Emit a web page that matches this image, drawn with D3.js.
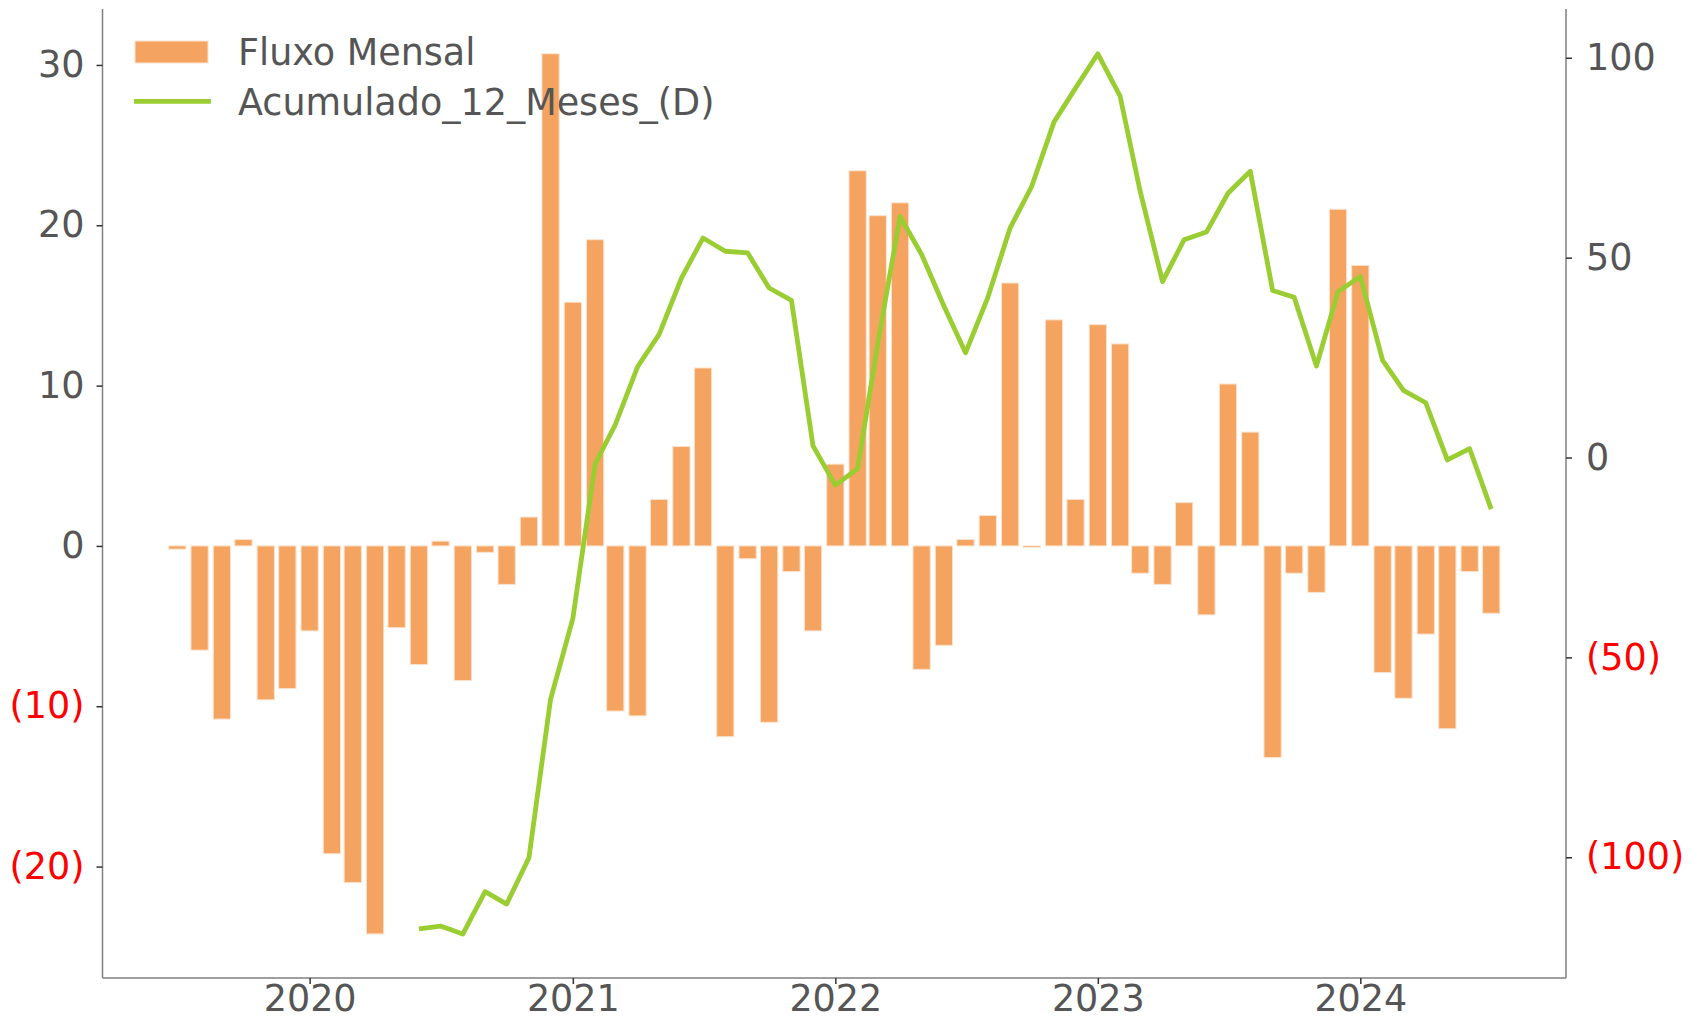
<!DOCTYPE html>
<html>
<head>
<meta charset="utf-8">
<script src="https://cdn.jsdelivr.net/npm/d3@7"></script>
<style>
  body { margin: 0; background: #fff; }
  .tick-text { font-family: "DejaVu Sans", sans-serif; font-size: 36.5px; }
</style>
</head>
<body>
<div id="chart"></div>
<script>
// months of the monthly flow (first day of each month)
var months = [
    "2019-07", "2019-08", "2019-09", "2019-10", "2019-11", "2019-12",
    "2020-01", "2020-02", "2020-03", "2020-04", "2020-05", "2020-06",
    "2020-07", "2020-08", "2020-09", "2020-10", "2020-11", "2020-12",
    "2021-01", "2021-02", "2021-03", "2021-04", "2021-05", "2021-06",
    "2021-07", "2021-08", "2021-09", "2021-10", "2021-11", "2021-12",
    "2022-01", "2022-02", "2022-03", "2022-04", "2022-05", "2022-06",
    "2022-07", "2022-08", "2022-09", "2022-10", "2022-11", "2022-12",
    "2023-01", "2023-02", "2023-03", "2023-04", "2023-05", "2023-06",
    "2023-07", "2023-08", "2023-09", "2023-10", "2023-11", "2023-12",
    "2024-01", "2024-02", "2024-03", "2024-04", "2024-05", "2024-06",
    "2024-07"
];

// Fluxo Mensal (left axis)
var fluxoMensal = [
    -0.2, -6.5, -10.8, 0.4, -9.6, -8.9,
    -5.3, -19.2, -21.0, -24.2, -5.1, -7.4,
    0.3, -8.4, -0.4, -2.4, 1.8, 30.7,
    15.2, 19.1, -10.3, -10.6, 2.9, 6.2,
    11.1, -11.9, -0.8, -11.0, -1.6, -5.3,
    5.1, 23.4, 20.6, 21.4, -7.7, -6.2,
    0.4, 1.9, 16.4, -0.1, 14.1, 2.9,
    13.8, 12.6, -1.7, -2.4, 2.7, -4.3,
    10.1, 7.1, -13.2, -1.7, -2.9, 21.0,
    17.5, -7.9, -9.5, -5.5, -11.4, -1.6,
    -4.2
];

// Acumulado 12 meses (right axis), starts 2020-06
var acumMonths = months.slice(11);
var acumulado12 = [
    -117.9, -117.2, -119.2, -108.6, -111.7, -100.1, -60.5,
    -40.3, -1.6, 8.2, 22.7, 30.8, 44.9, 54.9, 51.6, 51.2, 42.4, 39.3, 2.9,
    -6.9, -2.8, 28.5, 60.3, 50.8, 37.9, 26.2, 40.0, 57.4, 67.8, 83.9, 92.4,
    101.0, 90.4, 66.5, 44.0, 54.5, 56.4, 66.1, 71.6, 41.8, 40.1, 22.9, 41.5,
    45.3, 24.3, 16.8, 13.7, -0.6, 2.2, -12.9
];

var leftTicks = [-20, -10, 0, 10, 20, 30];
var rightTicks = [-100, -50, 0, 50, 100];
var yearTicks = ["2020", "2021", "2022", "2023", "2024"];

var seriesNames = ["Fluxo Mensal", "Acumulado_12_Meses_(D)"];

var svgWidth = 1692;
var svgHeight = 1021;

var margin = { top: 9, bottom: 43, left: 102.5, right: 126 };
var width = svgWidth - margin.left - margin.right;
var height = svgHeight - margin.top - margin.bottom;

var parseMonth = d3.timeParse("%Y-%m");
var parseDay = d3.timeParse("%Y-%m-%d");

var svg = d3.select("#chart")
    .append("svg")
    .attr("width", svgWidth)
    .attr("height", svgHeight);

var chartGroup = svg.append("g")
    .attr("transform", `translate(${margin.left}, ${margin.top})`);

// scales
var xTimeScale = d3.scaleTime()
    .domain([parseDay("2019-03-19"), parseDay("2024-10-13")])
    .range([0, width]);

var yLeft = d3.scaleLinear()
    .domain([-26.95, 33.49])
    .range([height, 0]);

var yRight = d3.scaleLinear()
    .domain([-130.2, 112.2])
    .range([height, 0]);

var textGray = "#555555";
var spineGray = "#7f7f7f";

function fmt(v) {
    return v < 0 ? "(" + Math.abs(v) + ")" : String(v);
}

// bars (24 days wide, centred on the month)
chartGroup.append("g").selectAll("rect")
    .data(months)
    .enter()
    .append("rect")
    .attr("x", d => xTimeScale(d3.timeDay.offset(parseMonth(d), -12)))
    .attr("width", d => xTimeScale(d3.timeDay.offset(parseMonth(d), 12)) - xTimeScale(d3.timeDay.offset(parseMonth(d), -12)))
    .attr("y", (d, i) => yLeft(Math.max(0, fluxoMensal[i])))
    .attr("height", (d, i) => Math.abs(yLeft(fluxoMensal[i]) - yLeft(0)))
    .attr("fill", "#f4a460")
    .attr("stroke", "#fbe3cf")
    .attr("stroke-width", 1);

// 12 month line
var line = d3.line()
    .x(d => xTimeScale(parseMonth(d)))
    .y((d, i) => yRight(acumulado12[i]));

chartGroup.append("path")
    .datum(acumMonths)
    .attr("d", line)
    .attr("fill", "none")
    .attr("stroke", "#9acd32")
    .attr("stroke-width", 4.8)
    .attr("stroke-linejoin", "round");

// axes
var leftAxis = d3.axisLeft(yLeft).tickValues(leftTicks).tickSize(6).tickPadding(12).tickFormat(fmt);
var rightAxis = d3.axisRight(yRight).tickValues(rightTicks).tickSize(6).tickPadding(14).tickFormat(fmt);
var bottomAxis = d3.axisBottom(xTimeScale)
    .tickValues(yearTicks.map(y => parseDay(y + "-01-01")))
    .tickSize(6).tickPadding(1.5)
    .tickFormat(d3.timeFormat("%Y"));

var gl = chartGroup.append("g").call(leftAxis);
var gr = chartGroup.append("g").attr("transform", `translate(${width}, 0)`).call(rightAxis);
var gb = chartGroup.append("g").attr("transform", `translate(0, ${height})`).call(bottomAxis);

[gl, gr, gb].forEach(function(g) {
    g.select(".domain").attr("stroke", spineGray).attr("stroke-width", 1.5);
    g.selectAll(".tick line").attr("stroke", "#333").attr("stroke-width", 1.5);
    g.selectAll(".tick text")
        .attr("class", "tick-text")
        .attr("fill", d => (typeof d === "number" && d < 0) ? "#ff0000" : textGray);
});
// plain spines without the outer tick caps
gl.select(".domain").attr("d", `M0,0V${height}`);
gr.select(".domain").attr("d", `M0,0V${height}`);
gb.select(".domain").attr("d", `M0,0H${width}`);

// legend
var legend = svg.append("g").attr("transform", "translate(134, 0)");
legend.append("rect")
    .attr("x", 1).attr("y", 41)
    .attr("width", 73).attr("height", 22)
    .attr("fill", "#f4a460")
    .attr("stroke", "#fbe3cf");
legend.append("line")
    .attr("x1", 0).attr("x2", 77)
    .attr("y1", 101.3).attr("y2", 101.3)
    .attr("stroke", "#9acd32")
    .attr("stroke-width", 4.8);
legend.selectAll("text.leg")
    .data(seriesNames)
    .enter()
    .append("text")
    .attr("class", "tick-text leg")
    .attr("x", 104)
    .attr("y", (d, i) => 52 + i * 49.5)
    .attr("dy", "0.36em")
    .attr("fill", textGray)
    .text(d => d);
</script>
</body>
</html>
